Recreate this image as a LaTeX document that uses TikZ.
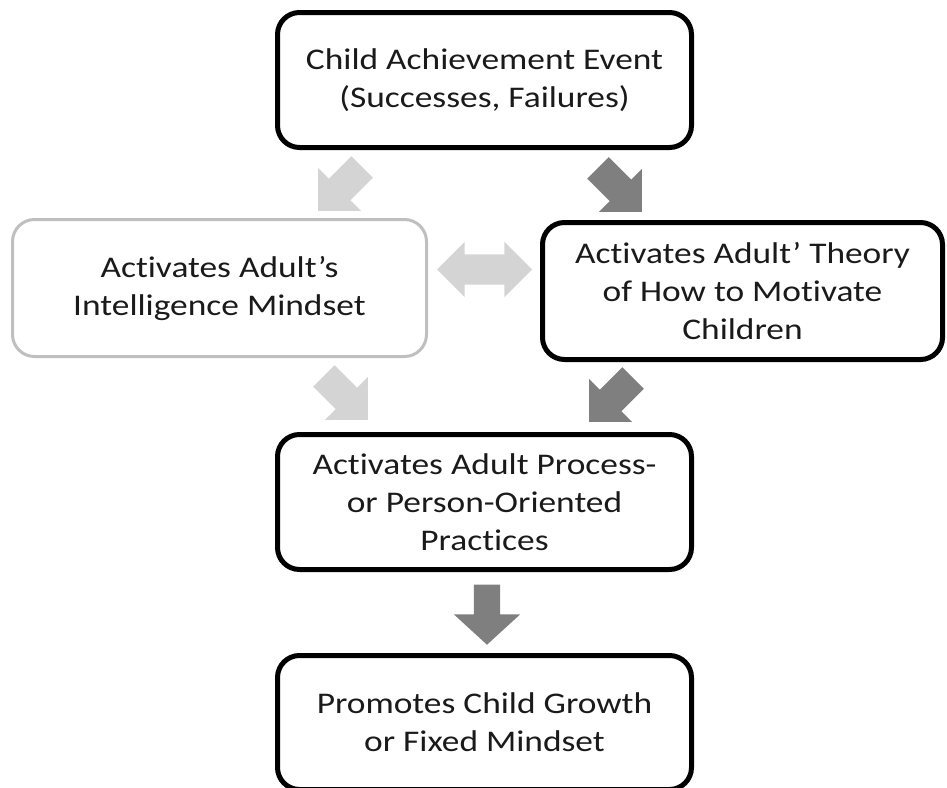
\documentclass[tikz,border=0pt]{standalone}
\usepackage{fontspec}
\setmainfont{Carlito}[FakeStretch=1.18, Ligatures=NoCommon]
\usetikzlibrary{shapes.arrows}
\definecolor{lightline}{HTML}{BFBFBF}
\definecolor{lightfill}{HTML}{D4D4D4}
\definecolor{darkfill}{HTML}{7F7F7F}
\definecolor{textgray}{HTML}{1A1A1A}
\tikzset{
  box/.style={draw=black, line width=5pt, rounded corners=22pt, align=center,
    text=textgray, font=\fontsize{30}{38}\selectfont, inner sep=0pt},
  lightbox/.style={box, draw=lightline, line width=3pt},
  blockarrow/.style={single arrow, draw=none, inner sep=0pt, text height=15pt, text depth=15pt,
    single arrow head extend=15pt, single arrow tip angle=90, minimum height=62pt, anchor=tip},
  lightarrow/.style={blockarrow, fill=lightfill},
  darkarrow/.style={blockarrow, fill=darkfill},
  twowayarrow/.style={double arrow, draw=none, inner sep=0pt, text height=15pt, text depth=15pt,
    double arrow head extend=12.5pt, double arrow tip angle=90, minimum height=95pt, fill=lightfill}
}
\begin{document}
\begin{tikzpicture}[x=1pt, y=-1pt]
  \useasboundingbox (0,0) rectangle (947,787);

  % boxes
  \node[box, minimum width=414pt, minimum height=135pt] (event) at (484.5, 80)
    {Child Achievement Event\\(Successes, Failures)};
  \node[lightbox, minimum width=414pt, minimum height=137pt] (mindset) at (219.5, 288)
    {Activates Adult’s\\Intelligence Mindset};
  \node[box, minimum width=400pt, minimum height=137pt] (theory) at (742.5, 291)
    {Activates Adult’ Theory\\of How to Motivate\\Children};
  \node[box, minimum width=414pt, minimum height=135pt] (practices) at (484.5, 502)
    {Activates Adult Process-\\or Person-Oriented\\Practices};
  \node[box, minimum width=414pt, minimum height=134pt] (outcome) at (484.5, 722.5)
    {Promotes Child Growth\\or Fixed Mindset};

  % block arrows
  \node[lightarrow, rotate=225] (eventtomindset) at (318, 211) {};
  \node[darkarrow, rotate=-45] (eventtotheory) at (642, 212) {};
  \node[twowayarrow] (mindsettheory) at (484.5, 269.5) {};
  \node[lightarrow, rotate=-45] (mindsettopractices) at (368, 420) {};
  \node[darkarrow, rotate=225] (theorytopractices) at (589, 422) {};
  \node[darkarrow, rotate=-90, minimum height=60pt, text height=13pt, text depth=13pt,
    single arrow head extend=20pt, single arrow tip angle=95] (practicestooutcome) at (487, 645) {};
\end{tikzpicture}
\end{document}
